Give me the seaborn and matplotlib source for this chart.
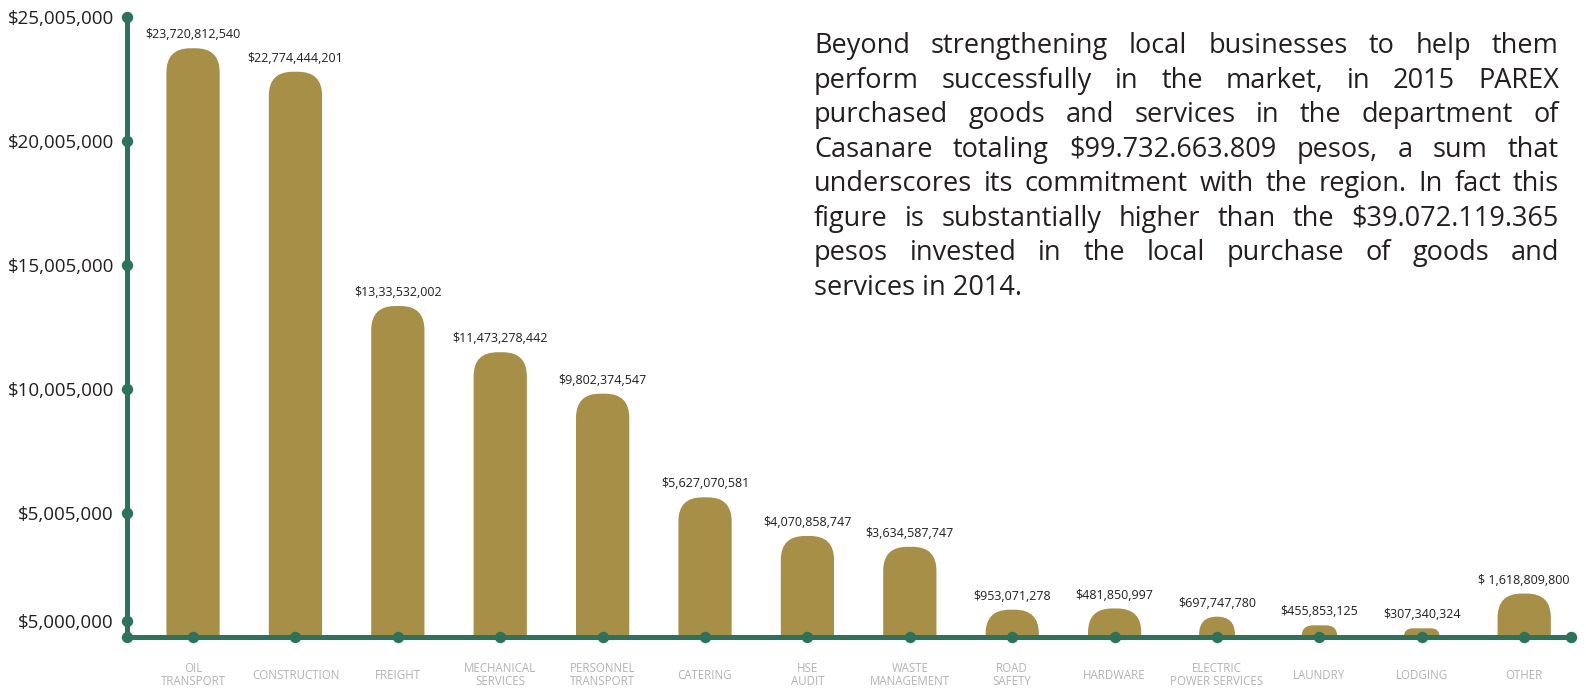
import matplotlib
matplotlib.use("Agg")
import matplotlib.pyplot as plt
import seaborn as sns
import pandas as pd
from matplotlib.patches import FancyBboxPatch
from matplotlib.transforms import blended_transform_factory, IdentityTransform

# ---------------- data ----------------
categories = ["OIL\nTRANSPORT", "CONSTRUCTION", "FREIGHT", "MECHANICAL\nSERVICES",
              "PERSONNEL\nTRANSPORT", "CATERING", "HSE\nAUDIT", "WASTE\nMANAGEMENT",
              "ROAD\nSAFETY", "HARDWARE", "ELECTRIC\nPOWER SERVICES", "LAUNDRY",
              "LODGING", "OTHER"]
# bar heights in pesos, as drawn in the source picture
amounts = [23720812540, 22774444201, 13335320020, 11473278442, 9802374547,
           5627070581, 4070858747, 3634587747, 1100000000, 1150000000,
           820000000, 470000000, 350000000, 1750000000]
value_labels = ["$23,720,812,540", "$22,774,444,201", "$13,33,532,002", "$11,473,278,442",
                "$9,802,374,547", "$5,627,070,581", "$4,070,858,747", "$3,634,587,747",
                "$953,071,278", "$481,850,997", "$697,747,780", "$455,853,125",
                "$307,340,324", "$ 1,618,809,800"]
ytick_values = [0.65e9, 5e9, 10e9, 15e9, 20e9, 25e9]
ytick_labels = ["$5,000,000", "$5,005,000", "$10,005,000", "$15,005,000",
                "$20,005,000", "$25,005,000"]
paragraph = [
    "Beyond strengthening local businesses to help them",
    "perform successfully in the market, in 2015 PAREX",
    "purchased goods and services in the department of",
    "Casanare totaling $99.732.663.809 pesos, a sum that",
    "underscores its commitment with the region. In fact this",
    "figure is substantially higher than the $39.072.119.365",
    "pesos invested in the local purchase of goods and",
    "services in 2014.",
]

# ---------------- style ----------------
GREEN = "#2c735d"
GOLD = "#a78f47"
DARK = "#231f20"
GREY = "#b3b3b3"
narrow = {"ELECTRIC\nPOWER SERVICES", "LAUNDRY", "LODGING"}

plt.rcParams["font.family"] = ["Open Sans", "DejaVu Sans"]

W, H = 1586, 688
fig = plt.figure(figsize=(W / 100, H / 100), dpi=100)
ax = fig.add_axes([127 / W, 51 / H, 1444 / W, (637 - 5) / H])

df = pd.DataFrame({"category": categories, "amount": amounts})
sns.barplot(data=df, x="category", y="amount", color=GOLD, saturation=1,
            width=0.52, ax=ax)

ax.set_xlim(-0.645, 13.457)
ax.set_ylim(0, (637 - 5) / 24.82 * 1e9)

# pixel <-> data conversion
x_per_px = (ax.get_xlim()[1] - ax.get_xlim()[0]) / 1444
y_per_px = (ax.get_ylim()[1] - ax.get_ylim()[0]) / (637 - 5)
aspect = y_per_px / x_per_px

bars = list(ax.containers[0])
for bar, cat, lab in zip(bars, categories, value_labels):
    x0, w, h = bar.get_x(), bar.get_width(), bar.get_height()
    cx = x0 + w / 2
    if cat in narrow:
        w = 0.35
        x0 = cx - w / 2
    bar.remove()
    w_px = w / x_per_px
    h_px = h / y_per_px
    r_px = min(24, w_px / 2, h_px)
    ext = r_px * y_per_px
    patch = FancyBboxPatch((x0, -ext), w, h + ext,
                           boxstyle=f"round,pad=0,rounding_size={r_px * x_per_px}",
                           mutation_aspect=aspect, facecolor=GOLD, edgecolor="none",
                           zorder=1)
    ax.add_patch(patch)
    ax.annotate(lab, (cx, h), xytext=(0, 5), textcoords="offset points",
                ha="center", va="bottom", fontsize=9, color=DARK,
                annotation_clip=False)

# axes / spines
for s in ["top", "right"]:
    ax.spines[s].set_visible(False)
for s in ["left", "bottom"]:
    ax.spines[s].set_color(GREEN)
    ax.spines[s].set_linewidth(3.6)
    ax.spines[s].set_zorder(3)
ax.spines["left"].set_bounds(0, 25e9)

ax.set_yticks(ytick_values)
ax.set_yticklabels(ytick_labels)
ax.tick_params(axis="y", length=0, pad=9.5, labelsize=13.5, labelcolor=DARK)
ax.set_xticks(range(len(categories)))
ax.set_xticklabels(categories)
ax.tick_params(axis="x", length=0, pad=27.4, labelsize=8.3, labelcolor=GREY)
for t in ax.get_xticklabels():
    t.set_va("center")
    t.set_multialignment("center")
    t.set_linespacing(1.05)
ax.set_xlabel("")
ax.set_ylabel("")

# dots on axes
ax.plot(range(len(categories)), [0] * len(categories), "o", color=GREEN,
        markersize=7.2, clip_on=False, zorder=5)
ax.plot([0, 1], [0, 0], "o", color=GREEN, markersize=7.2, clip_on=False,
        zorder=5, transform=ax.transAxes)
ax.plot([0] * len(ytick_values), ytick_values, "o", color=GREEN, markersize=7.2,
        clip_on=False, zorder=5,
        transform=blended_transform_factory(ax.transAxes, ax.transData))

# justified paragraph
renderer = fig.canvas.get_renderer()
left_px, right_px = 814, 1559
for i, line in enumerate(paragraph):
    y = H - (53.3 + 34.5 * i)
    if i == len(paragraph) - 1:
        fig.text(left_px, y, line, transform=IdentityTransform(), fontsize=19.5,
                 color=DARK, va="baseline", ha="left")
        continue
    words = line.split()
    objs = [fig.text(0, y, wd, transform=IdentityTransform(), fontsize=19.5,
                     color=DARK, va="baseline", ha="left") for wd in words]
    widths = [o.get_window_extent(renderer).width for o in objs]
    gap = (right_px - left_px - sum(widths)) / (len(words) - 1)
    x = left_px
    for o, wd in zip(objs, widths):
        o.set_x(x)
        x += wd + gap

fig.savefig("out.png", dpi=100)
